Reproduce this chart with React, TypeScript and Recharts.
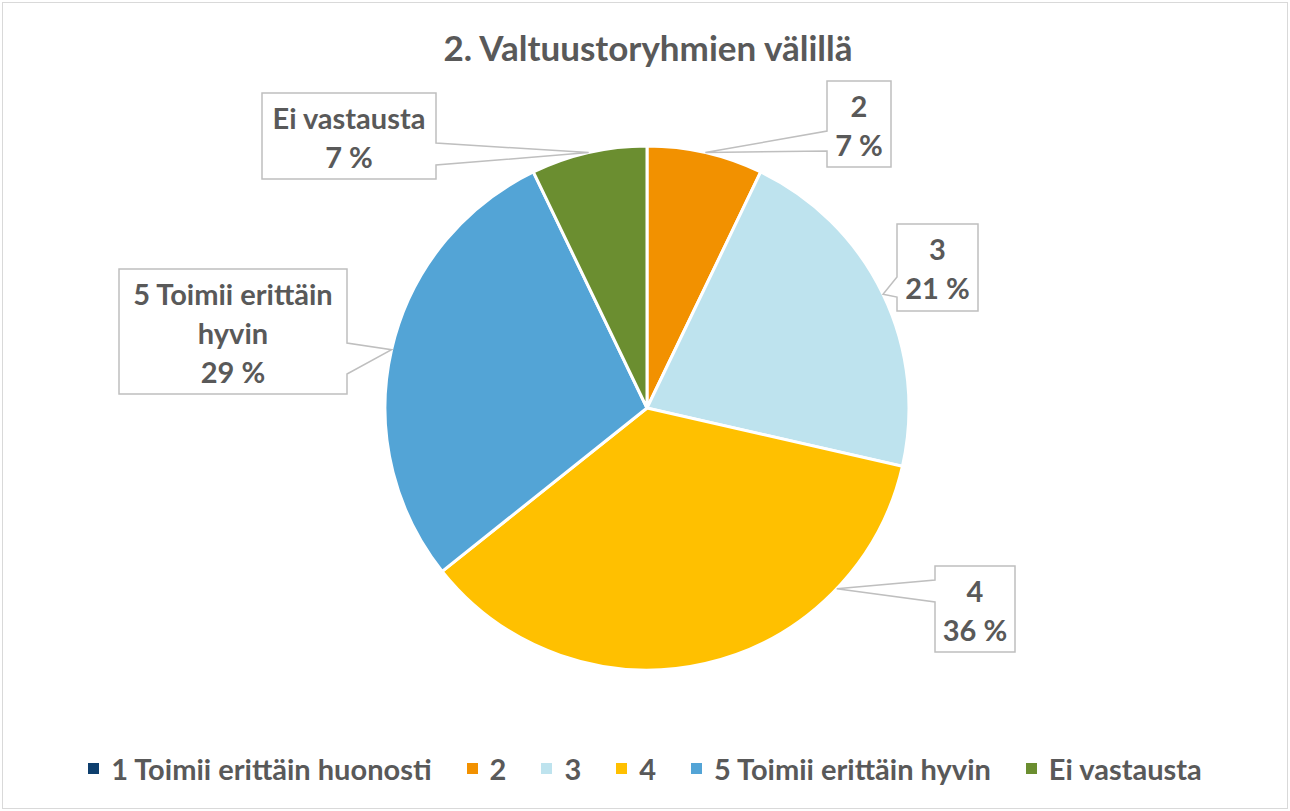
import React from 'react'
import { PieChart, Pie, Cell, Legend } from 'recharts'

// Vastausten määrät (14 vastaajaa)
const categories = [
  '1 Toimii erittäin huonosti',
  '2',
  '3',
  '4',
  '5 Toimii erittäin hyvin',
  'Ei vastausta'
]
const counts = [0, 1, 3, 5, 4, 1]
const colors = ['#0E3F6E', '#F29100', '#BEE3EE', '#FFC000', '#53A4D6', '#6B8E30']

const title = '2. Valtuustoryhmien välillä'

const FONT = 'Lato, "Open Sans", sans-serif'
const TEXT = '#595959'

// Label box layout relative to the pie centre
interface BoxLayout {
  dx: number
  dy: number
  w: number
  h: number
  side: 'left' | 'right'
  b1: number
  b2: number
  lines: string[]
  tipAngle?: number
}

const labelLayout: Record<string, BoxLayout> = {
  '2': { dx: 180, dy: -327, w: 64, h: 86, side: 'left', b1: 50, b2: 70, lines: ['2'] },
  '3': { dx: 250, dy: -184, w: 81, h: 87, side: 'left', b1: 53, b2: 73, lines: ['3'] },
  '4': { dx: 288, dy: 158, w: 80, h: 86, side: 'left', b1: 14, b2: 36, lines: ['4'], tipAngle: -43.6 },
  '5 Toimii erittäin hyvin': {
    dx: -528, dy: -139, w: 228, h: 125, side: 'right', b1: 74, b2: 105,
    lines: ['5 Toimii erittäin', 'hyvin']
  },
  'Ei vastausta': {
    dx: -385, dy: -315, w: 174, h: 86, side: 'right', b1: 50, b2: 72,
    lines: ['Ei vastausta']
  }
}

const data = categories.map((name, i) => ({ name, value: counts[i] }))

const RADIAN = Math.PI / 180

// eslint-disable-next-line @typescript-eslint/no-explicit-any
const renderLabel = (props: any): React.JSX.Element | null => {
  const { cx, cy, midAngle, outerRadius, name, percent, value } = props
  if (!value) return null
  const box = labelLayout[name]
  if (!box) return null
  const angle = box.tipAngle ?? midAngle
  const tx = cx + outerRadius * Math.cos(-angle * RADIAN)
  const ty = cy + outerRadius * Math.sin(-angle * RADIAN)
  const x = cx + box.dx
  const y = cy + box.dy
  const { w, h, b1, b2 } = box
  const d =
    box.side === 'right'
      ? `M${x},${y} L${x + w},${y} L${x + w},${y + b1} L${tx},${ty} L${x + w},${y + b2} L${x + w},${y + h} L${x},${y + h} Z`
      : `M${x},${y} L${x + w},${y} L${x + w},${y + h} L${x},${y + h} L${x},${y + b2} L${tx},${ty} L${x},${y + b1} Z`
  const lines = [...box.lines, `${Math.round(percent * 100)} %`]
  const lineH = 39
  const firstBase = y + h / 2 - ((lines.length - 1) * lineH) / 2 + 12
  return (
    <g>
      <path d={d} fill="#ffffff" stroke="#BFBFBF" strokeWidth={1.5} />
      {lines.map((ln, i) => (
        <text
          key={i}
          x={x + w / 2}
          y={firstBase + i * lineH}
          textAnchor="middle"
          fill={TEXT}
          fontFamily={FONT}
          fontWeight={700}
          fontSize={29}
        >
          {ln}
        </text>
      ))}
    </g>
  )
}

const renderLegend = (): React.JSX.Element => (
  <div
    style={{
      display: 'flex',
      justifyContent: 'center',
      alignItems: 'center',
      gap: 35,
      fontFamily: FONT,
      fontWeight: 700,
      fontSize: 29,
      color: TEXT
    }}
  >
    {categories.map((c, i) => (
      <div key={c} style={{ display: 'flex', alignItems: 'center', gap: 12 }}>
        <span style={{ width: 11, height: 11, background: colors[i], display: 'inline-block' }} />
        <span>{c}</span>
      </div>
    ))}
  </div>
)

export default function App(): React.JSX.Element {
  return (
    <div
      style={{
        position: 'absolute',
        left: 0,
        top: 0,
        width: 1290,
        height: 811,
        background: '#ffffff'
      }}
    >
      <div
        style={{
          position: 'absolute',
          left: 2,
          top: 2,
          width: 1284,
          height: 805,
          border: '1px solid #D9D9D9'
        }}
      />
      <div
        style={{
          position: 'absolute',
          left: 0,
          top: 26,
          width: 1296,
          textAlign: 'center',
          fontFamily: FONT,
          fontWeight: 700,
          fontSize: 35,
          color: TEXT
        }}
      >
        {title}
      </div>
      <PieChart
        width={1290}
        height={811}
        margin={{ top: 0, right: 0, bottom: 0, left: 0 }}
        style={{ position: 'absolute', left: 0, top: 0 }}
      >
        <Pie
          data={data}
          dataKey="value"
          nameKey="name"
          cx={647}
          cy={408}
          outerRadius={262}
          startAngle={90}
          endAngle={-270}
          stroke="#ffffff"
          strokeWidth={3}
          label={renderLabel}
          labelLine={false}
          isAnimationActive={false}
        >
          {data.map((d, i) => (
            <Cell key={d.name} fill={colors[i]} />
          ))}
        </Pie>
        <Legend
          content={renderLegend}
          wrapperStyle={{ left: 0, top: 751, width: 1290, bottom: 'auto' }}
        />
      </PieChart>
    </div>
  )
}
